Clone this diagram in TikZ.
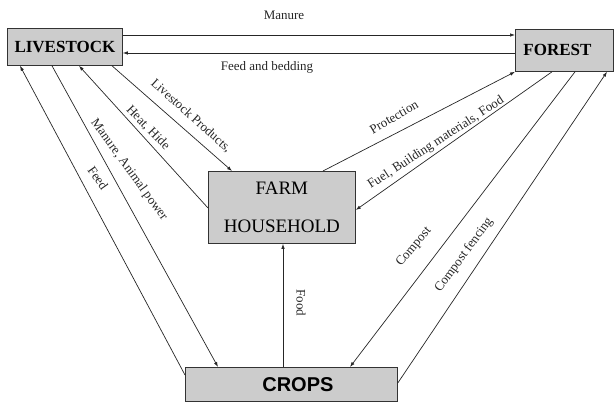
\documentclass[tikz,border=0pt]{standalone}
\usepackage{fontspec}
\setmainfont{Liberation Serif}
\newfontfamily\arialfont{Liberation Sans}
\usetikzlibrary{arrows.meta}
\begin{document}
\begin{tikzpicture}[x=1pt,y=-1pt,
  box/.style={draw=black!80, line width=0.8pt, fill=black!20, inner sep=0pt, anchor=north west},
  flow/.style={draw=black!85, line width=0.7pt, -{Latex[length=5pt,width=3.5pt]}},
  lbl/.style={font=\fontsize{13}{15}\selectfont, inner sep=0pt, text=black!85}
]
\useasboundingbox (0,0) rectangle (614,403);

% boxes
\node[box, minimum width=115pt, minimum height=37pt, font=\fontsize{17}{20}\selectfont\bfseries] (live) at (7,28) {LIVESTOCK};
\node[box, minimum width=98pt, minimum height=42pt, text width=82pt, align=left, inner xsep=8pt, font=\fontsize{17}{20}\selectfont\bfseries] (forest) at (515,29) {FOREST};
\node[box, minimum width=147pt, minimum height=72pt, align=center, font=\fontsize{19}{38}\selectfont] (farm) at (208,171) {FARM\\HOUSEHOLD};
\node[box, minimum width=212pt, minimum height=34pt, font=\arialfont\bfseries\fontsize{20}{24}\selectfont] (crops) at (185,367) {\hspace{13pt}CROPS};

% connectors
\draw[flow] (live.east |- 0,35) -- (forest.west |- 0,35);
\draw[flow] (forest.west |- 0,53) -- (live.east |- 0,53);
\draw[flow] (live.south -| 112,0) -- (farm.north -| 232,0);
\draw[flow] (farm.west |- 0,208) -- (live.south -| 79,0);
\draw[flow] (live.south -| 52,0) -- (crops.north -| 218,0);
\draw[flow] (crops.west |- 0,375) -- (live.south -| 20,0);
\draw[flow] (crops.north -| 283,0) -- (farm.south -| 283,0);
\draw[flow] (farm.north -| 323,0) -- (forest.south west);
\draw[flow] (forest.south -| 552,0) -- (farm.east |- 0,210);
\draw[flow] (forest.south -| 575,0) -- (crops.north -| 350,0);
\draw[flow] (crops.east |- 0,383) -- (forest.south -| 607,0);

% labels
\node[lbl] (lManure) at (284,15) {Manure};
\node[lbl] (lFeedBed) at (267,67) {Feed and bedding};
\node[lbl, rotate=-42] (lLP) at (191,116) {Livestock Products,};
\node[lbl, rotate=-46] (lHH) at (148,128) {Heat, Hide};
\node[lbl, rotate=-54] (lMAP) at (129,170) {Manure, Animal power};
\node[lbl, rotate=-55] (lFeed) at (98,178) {Feed};
\node[lbl, rotate=-90] (lFood) at (301,303) {Food};
\node[lbl, rotate=30] (lProt) at (394,117) {Protection};
\node[lbl, rotate=33] (lFuel) at (436,143) {Fuel, Building materials, Food};
\node[lbl, rotate=50] (lComp) at (414,247) {Compost};
\node[lbl, rotate=54] (lCF) at (464,255) {Compost fencing};
\end{tikzpicture}
\end{document}
